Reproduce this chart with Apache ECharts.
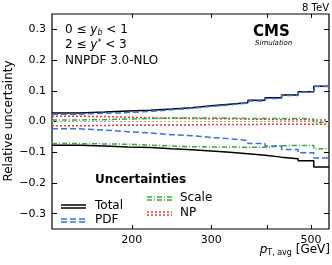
<!DOCTYPE html>
<html><head><meta charset="utf-8">
<script src="https://cdn.jsdelivr.net/npm/echarts@6/dist/echarts.min.js"></script>
<style>html,body{margin:0;padding:0;background:#fff}#c{width:332px;height:265px}</style>
</head><body><div id="c"></div>
<script>
const edges = [133,153,174,196,220,245,272,300,330,362,395,430,468,507,548];
const totalUp = [0.028,0.031,0.034,0.037,0.041,0.045,0.051,0.056,0.061,0.069,0.077,0.086,0.097,0.115];
const totalDn = [-0.077,-0.080,-0.083,-0.085,-0.089,-0.092,-0.096,-0.100,-0.105,-0.110,-0.116,-0.121,-0.128,-0.148];
const pdfUp = [0.024,0.027,0.029,0.033,0.038,0.043,0.049,0.054,0.060,0.067,0.075,0.085,0.096,0.114];
const pdfDn = [-0.024,-0.028,-0.033,-0.037,-0.043,-0.046,-0.052,-0.056,-0.062,-0.072,-0.080,-0.091,-0.102,-0.119];
const scaleUp = [0.005,0.006,0.008,0.010,0.011,0.011,0.011,0.011,0.010,0.010,0.010,0.010,0.008,-0.003];
const scaleDn = [-0.072,-0.073,-0.074,-0.077,-0.080,-0.082,-0.083,-0.083,-0.084,-0.084,-0.079,-0.078,-0.078,-0.089];
const npUp = [0.017,0.016,0.014,0.012,0.011,0.010,0.009,0.009,0.008,0.007,0.006,0.006,0.005,0.005];
const npDn = [-0.014,-0.013,-0.012,-0.012,-0.011,-0.011,-0.010,-0.010,-0.010,-0.009,-0.009,-0.009,-0.009,-0.009];
const zeroLine = [0];
const xLabels = [200,300,500];
const xTicks = [200,300,400,500];
const yTicks = [-0.3,-0.2,-0.1,0,0.1,0.2,0.3];

const COL = {total:'#000000', pdf:'#3c72d6', scale:'#3aa83a', np:'#e03a3a', zero:'#aaaaaa'};
const FONT = 'DejaVu Sans';

function stepData(vals){
  const d = vals.map((v,i)=>[edges[i], v]);
  d.push([edges[edges.length-1], vals[vals.length-1]]);
  return d;
}
function ser(name, vals, color, type, z){
  return {name, type:'line', step:'end', data:stepData(vals), symbol:'none', z:z||2,
    lineStyle:{color, width:1.5, type}, silent:true, animation:false};
}
const chart = echarts.init(document.getElementById('c'));
const fmtY = v => (Math.abs(v)<1e-9 ? '0.0' : v.toFixed(1).replace('-','\u2212'));
const xAxisBase = {type:'log', min:edges[0], max:edges[edges.length-1], gridIndex:0};
const zeroSeries = ser('zero', edges.slice(0,-1).map(()=>zeroLine[0]), COL.zero, [2,2], 0);
zeroSeries.lineStyle.width = 1.2;
const option = {
  animation:false,
  grid:{left:52, right:3, top:14, bottom:36, show:true, borderColor:'#000', borderWidth:1.2, backgroundColor:'transparent', outerBoundsMode:'none', containLabel:false},
  xAxis:[
    Object.assign({}, xAxisBase, {position:'bottom',
      axisLine:{show:false, onZero:false}, splitLine:{show:false},
      axisTick:{show:true, inside:true, length:4, customValues:xTicks, lineStyle:{color:'#000'}},
      minorTick:{show:false},
      axisLabel:{show:true, customValues:xLabels, color:'#000', fontFamily:FONT, fontSize:11, margin:6, formatter:v=>String(Math.round(v))}}),
    Object.assign({}, xAxisBase, {position:'top',
      axisLine:{show:false, onZero:false}, splitLine:{show:false},
      axisTick:{show:true, inside:true, length:4, customValues:xTicks, lineStyle:{color:'#000'}},
      axisLabel:{show:false}})
  ],
  yAxis:[
    {type:'value', min:-0.35, max:0.35, position:'left',
      axisLine:{show:false, onZero:false}, splitLine:{show:false},
      axisTick:{show:true, inside:true, length:5, customValues:yTicks, lineStyle:{color:'#000'}},
      axisLabel:{show:true, customValues:yTicks, color:'#000', fontFamily:FONT, fontSize:11, margin:6, formatter:fmtY}},
    {type:'value', min:-0.35, max:0.35, position:'right',
      axisLine:{show:false, onZero:false}, splitLine:{show:false},
      axisTick:{show:true, inside:true, length:5, customValues:yTicks, lineStyle:{color:'#000'}},
      axisLabel:{show:false}}
  ],
  series:[
    zeroSeries,
    ser('NP', npUp, COL.np, [2,2], 1),
    ser('NP', npDn, COL.np, [2,2], 1),
    ser('Scale', scaleUp, COL.scale, [5,2,1,2], 2),
    ser('Scale', scaleDn, COL.scale, [5,2,1,2], 2),
    ser('Total', totalUp, COL.total, 'solid', 3),
    ser('Total', totalDn, COL.total, 'solid', 3),
    ser('PDF', pdfUp, COL.pdf, [6,3], 4),
    ser('PDF', pdfDn, COL.pdf, [6,3], 4)
  ],
  graphic:[
    {type:'text', x:9, y:121, rotation:Math.PI/2, style:{text:'Relative uncertainty', fontFamily:FONT, fontSize:12, fill:'#000', align:'center', verticalAlign:'middle'}},
    {type:'text', left:65, top:24, style:{text:'0 \u2264 {i|y}{s|b} < 1', fontFamily:FONT, fontSize:12, fill:'#000',
      rich:{i:{fontStyle:'italic', fontFamily:FONT, fontSize:12}, s:{fontStyle:'italic', fontFamily:FONT, fontSize:8, verticalAlign:'bottom', padding:[5,0,0,0]}}}},
    {type:'text', left:65, top:39, style:{text:'2 \u2264 {i|y}{s|*} < 3', fontFamily:FONT, fontSize:12, fill:'#000',
      rich:{i:{fontStyle:'italic', fontFamily:FONT, fontSize:12}, s:{fontFamily:FONT, fontSize:8, verticalAlign:'top'}}}},
    {type:'text', left:65, top:55, style:{text:'NNPDF 3.0-NLO', fontFamily:FONT, fontSize:12, fill:'#000'}},
    {type:'text', left:253, top:25, style:{text:'CMS', fontFamily:FONT, fontSize:15, fontWeight:'bold', fill:'#000'}},
    {type:'text', left:255, top:40, style:{text:'Simulation', fontFamily:FONT, fontSize:7, fontStyle:'italic', fill:'#000'}},
    {type:'text', right:3, top:3, style:{text:'8 TeV', fontFamily:FONT, fontSize:10, fill:'#000'}},
    {type:'text', right:2, top:244, style:{text:'{p|p}{s|T, avg} [GeV]', fontFamily:FONT, fontSize:12, fill:'#000',
      rich:{p:{fontStyle:'italic', fontFamily:FONT, fontSize:12}, s:{fontFamily:FONT, fontSize:8, padding:[6,0,0,0]}}}},
    {type:'text', left:95, top:174, style:{text:'Uncertainties', fontFamily:FONT, fontSize:12, fontWeight:'bold', fill:'#000'}},
    {type:'line', shape:{x1:61,y1:205,x2:86,y2:205}, style:{stroke:COL.total, lineWidth:1.5}},
    {type:'line', shape:{x1:61,y1:208,x2:86,y2:208}, style:{stroke:COL.total, lineWidth:1.5}},
    {type:'text', left:95, top:200, style:{text:'Total', fontFamily:FONT, fontSize:12, fill:'#000'}},
    {type:'line', shape:{x1:61,y1:219,x2:86,y2:219}, style:{stroke:COL.pdf, lineWidth:1.5, lineDash:[6,3]}},
    {type:'line', shape:{x1:61,y1:222,x2:86,y2:222}, style:{stroke:COL.pdf, lineWidth:1.5, lineDash:[6,3]}},
    {type:'text', left:95, top:214, style:{text:'PDF', fontFamily:FONT, fontSize:12, fill:'#000'}},
    {type:'line', shape:{x1:147,y1:197,x2:172,y2:197}, style:{stroke:COL.scale, lineWidth:1.5, lineDash:[5,2,1,2]}},
    {type:'line', shape:{x1:147,y1:200,x2:172,y2:200}, style:{stroke:COL.scale, lineWidth:1.5, lineDash:[5,2,1,2]}},
    {type:'text', left:180, top:192, style:{text:'Scale', fontFamily:FONT, fontSize:12, fill:'#000'}},
    {type:'line', shape:{x1:147,y1:212,x2:172,y2:212}, style:{stroke:COL.np, lineWidth:1.5, lineDash:[2,2]}},
    {type:'line', shape:{x1:147,y1:215,x2:172,y2:215}, style:{stroke:COL.np, lineWidth:1.5, lineDash:[2,2]}},
    {type:'text', left:180, top:207, style:{text:'NP', fontFamily:FONT, fontSize:12, fill:'#000'}}
  ]
};
chart.setOption(option);
</script></body></html>
